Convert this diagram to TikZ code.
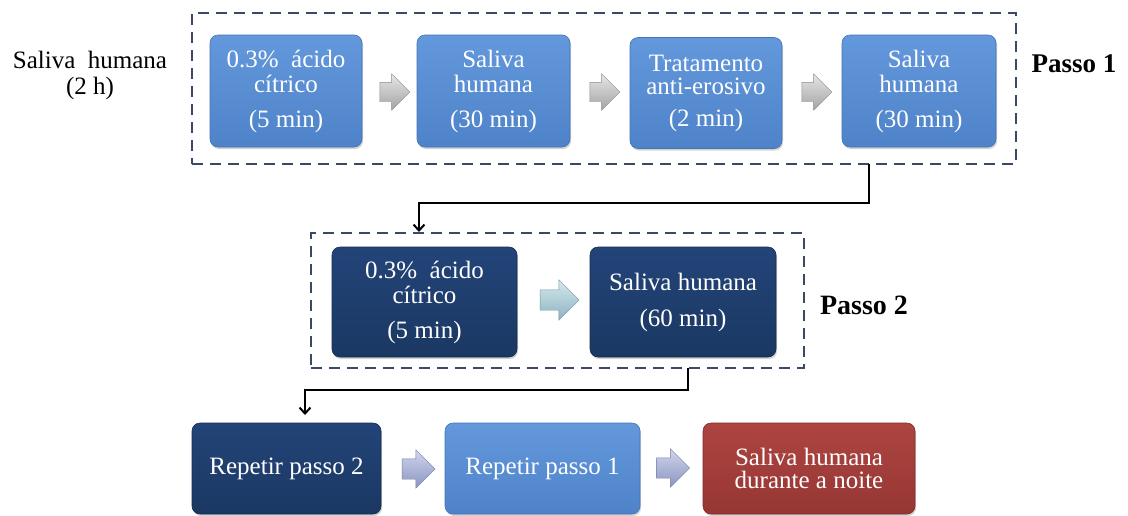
\documentclass[tikz,border=0pt]{standalone}
\usepackage{fontspec}
\setmainfont{Liberation Serif}
\usetikzlibrary{shapes.arrows,arrows.meta,shadows}
\definecolor{lbT}{HTML}{6398DC}
\definecolor{lbB}{HTML}{4E83C9}
\definecolor{lbD}{HTML}{4574B3}
\definecolor{nvT}{HTML}{234479}
\definecolor{nvB}{HTML}{1A3862}
\definecolor{nvD}{HTML}{152E52}
\definecolor{rdT}{HTML}{AD4542}
\definecolor{rdB}{HTML}{963633}
\definecolor{rdD}{HTML}{7F2B29}
\definecolor{dashc}{HTML}{3B4868}
\definecolor{gaT}{HTML}{E6E6E6}
\definecolor{gaB}{HTML}{A3A3A3}
\definecolor{caT}{HTML}{D4E9EE}
\definecolor{caB}{HTML}{8DB2BF}
\definecolor{paT}{HTML}{D0D5EC}
\definecolor{paB}{HTML}{8A95C0}
\begin{document}
\begin{tikzpicture}[x=1pt,y=-1pt,
  box/.style={rounded corners=8pt, align=center, text=white, inner sep=2pt,
    font=\fontsize{25}{25}\selectfont, line width=0.6pt,
    drop shadow={opacity=0.35, shadow xshift=1pt, shadow yshift=-2pt}},
  lightbox/.style={box, top color=lbT, bottom color=lbB, draw=lbD},
  navybox/.style={box, top color=nvT, bottom color=nvB, draw=nvD},
  redbox/.style={box, top color=rdT, bottom color=rdB, draw=rdD},
  groupbox/.style={draw=dashc, line width=2.2pt, dash pattern=on 11pt off 7pt},
  blockarrow/.style={single arrow, inner xsep=0pt, draw=#1, line width=0.4pt,
    shading angle=0},
  grayarrow/.style={blockarrow=gaB!85!black, top color=gaT, bottom color=gaB,
    minimum height=30pt, inner ysep=9.5pt, single arrow head extend=8.5pt},
  cyanarrow/.style={blockarrow=caB!85!black, top color=caT, bottom color=caB,
    minimum height=39pt, inner ysep=10pt, single arrow head extend=10pt},
  purparrow/.style={blockarrow=paB!85!black, top color=paT, bottom color=paB,
    minimum height=33pt, inner ysep=10pt, single arrow head extend=9pt},
  conn/.style={line width=2pt, -{Straight Barb[length=6pt,width=11pt,line width=2pt]}},
  label/.style={font=\fontsize{25}{26}\selectfont, align=center},
  passo/.style={font=\bfseries\fontsize{27}{30}\selectfont}
]
\useasboundingbox (0,0) rectangle (1128,515);

% group frames
\node[groupbox, minimum width=824pt, minimum height=151pt] (g1) at (604,88.5) {};
\node[groupbox, minimum width=493pt, minimum height=135pt] (g2) at (557.5,300.5) {};

% step 1
\node[lightbox, minimum width=152pt, minimum height=112pt] (b1) at (286,91)
  {0.3\% \ ácido\\cítrico\\[10pt](5 min)};
\node[lightbox, minimum width=153pt, minimum height=112pt] (b2) at (493.5,91)
  {Saliva\\humana\\[10pt](30 min)};
\node[lightbox, minimum width=152pt, minimum height=111pt] (b3) at (706,93)
  {Tratamento\\[-2pt]anti-erosivo\\[7pt](2 min)};
\node[lightbox, minimum width=154pt, minimum height=112pt] (b4) at (919,91)
  {Saliva\\humana\\[10pt](30 min)};
\node[grayarrow] (a1) at (390,92) {};
\node[grayarrow] (a2) at (600,92) {};
\node[grayarrow] (a3) at (812,92) {};

% step 2
\node[navybox, minimum width=185pt, minimum height=110pt] (b5) at (424.5,302)
  {0.3\% \ ácido\\cítrico\\[10pt](5 min)};
\node[navybox, minimum width=186pt, minimum height=110pt] (b6) at (683,302)
  {Saliva humana\\[11pt](60 min)};
\node[cyanarrow] (a4) at (554.5,300) {};

% bottom row
\node[navybox, minimum width=189pt, minimum height=91pt] (b7) at (286.5,468.5)
  {Repetir passo 2};
\node[lightbox, minimum width=195pt, minimum height=91pt] (b8) at (542.5,468.5)
  {Repetir passo 1};
\node[redbox, minimum width=212pt, minimum height=91pt] (b9) at (809,468.5)
  {Saliva humana\\[-2pt]durante a noite};
\node[purparrow] (a5) at (413.5,469) {};
\node[purparrow] (a6) at (668,468) {};

% labels
\node[label] (lh) at (90,75) {Saliva \ humana\\(2 h)};
\node[passo] (p1) at (1074,64) {Passo 1};
\node[passo, font=\bfseries\fontsize{28}{30}\selectfont] (p2) at (864,305) {Passo 2};

% connectors
\coordinate (c1s) at (869,164);
\coordinate (c1e) at (419,232);
\coordinate (c2s) at (688,368);
\coordinate (c2e) at (305,415);
\draw[conn] (c1s) -- ++(0,39) -| (c1e);
\draw[conn] (c2s) -- ++(0,22) -| (c2e);
\end{tikzpicture}
\end{document}
